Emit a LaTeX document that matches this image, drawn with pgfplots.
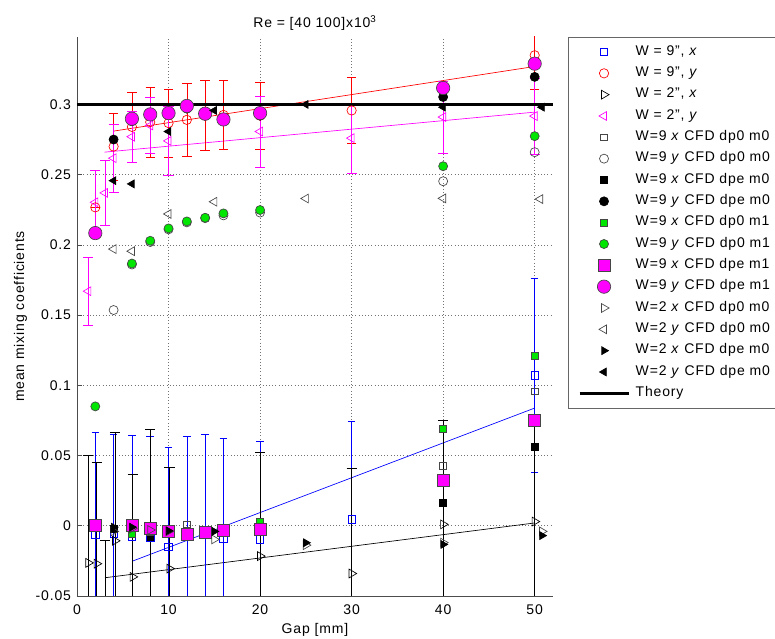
\documentclass[border=0pt]{standalone}
\usepackage{fontspec}
\setmainfont{Liberation Sans}[LetterSpace=6]
\usepackage{pgfplots}
\pgfplotsset{compat=1.18}

\definecolor{mgreen}{RGB}{0,230,0}
\definecolor{mag}{RGB}{255,0,255}
\definecolor{edgegray}{RGB}{70,70,70}

\pgfplotsset{
  expt/.style={only marks, line width=0.5pt,
    error bars/y dir=both, error bars/y explicit},
  cfd/.style={only marks, line width=0.5pt},
  fit/.style={no marks, line width=0.5pt, forget plot},
  theoryleg/.style={legend image code/.code={
    \draw[##1, line width=1.8pt] (0pt,0pt) -- (36.75pt,0pt);}},
}

\begin{document}
\begin{tikzpicture}
\begin{axis}[
  scale only axis, width=357pt, height=419.25pt,
  font=\fontsize{10.5}{12.5}\selectfont,
  xmin=0, xmax=52, ymin=-0.05, ymax=0.348,
  xtick={0,10,20,30,40,50},
  ytick={-0.05,0,0.05,0.1,0.15,0.2,0.25,0.3},
  axis x line*=bottom, axis y line*=left,
  axis line style={-, black!70, line width=0.5pt},
  tick align=inside, major tick length=4pt,
  tick style={black!70, line width=0.5pt},
  grid=major, grid style={dotted, black!55, line width=0.5pt},
  /pgf/number format/assume math mode=true,
  yticklabel style={xshift=-1pt, /pgf/number format/.cd, fixed, precision=2, assume math mode=true},
  xticklabel style={yshift=-3.25pt},
  xlabel={Gap [mm]},
  xlabel style={at={(axis description cs:0.5,-0.0608)}, anchor=center},
  ylabel={mean mixing coefficients},
  ylabel style={at={(axis description cs:-0.1187,0.5)}, anchor=center},
  title={Re = [40 100]x10\textsuperscript{3}},
  title style={at={(axis description cs:0.5,1)}, anchor=base, yshift=1pt},
  legend style={at={(axis description cs:1,1)}, anchor=north west, xshift=11.25pt,
    draw=black!60, line width=0.5pt, fill=white, inner xsep=7.5pt, inner ysep=6pt,
    row sep=6pt, column sep=4.5pt,
    nodes={inner sep=0pt, text height=7.5pt, text depth=2.5pt},
    font=\fontsize{10.5}{12.5}\selectfont},
  legend cell align=left,
  legend image code/.code={
    \path[draw=none, fill=none] (0pt,-2pt) (36.75pt,2pt);
    \draw[#1] plot coordinates {(18.375pt,0pt)};},
]
\coordinate (O) at (rel axis cs:0,0);

% fitted lines
\addplot[fit, blue] coordinates {(6.05,-0.0252) (50,0.0838)};
\addplot[fit, red] coordinates {(4,0.281) (50,0.327)};
\addplot[fit, mag] coordinates {(3,0.266) (50,0.2945)};
\addplot[fit, black] coordinates {(3.06,-0.037) (50,0.002)};

% W = 9", x
\addplot[expt, blue, mark=square, mark size=2.8pt,
  error bars/error bar style={blue, line width=0.5pt}]
  table[x=x, y=y, y error=e] {
x y e
2 -0.0066 0.073
4 -0.0055 0.071
6 -0.0078 0.072
8 -0.0083 0.072
10 -0.015 0.071
12 -0.006 0.070
14 -0.005 0.070
16 -0.009 0.071
20 -0.0095 0.070
30 0.0046 0.070
50 0.107 0.069
};
\addlegendentry{W = 9", \textit{x}}

% W = 9", y
\addplot[expt, red, mark=o, mark size=3.5pt,
  error bars/error bar style={red, line width=0.5pt}]
  table[x=x, y=y, y error=e] {
x y e
2 0.2267 0
4 0.270 0.024
6 0.284 0.025
8 0.2874 0.025
10 0.2867 0.024
12 0.289 0.026
14 0.292 0.025
16 0.2925 0.0245
20 0.292 0.024
30 0.2957 0.0233
40 0.313 0
50 0.335 0.0245
};
\addlegendentry{W = 9", \textit{y}}

% W = 2", x
\addplot[expt, black, mark=triangle, mark size=3.8pt, mark options={rotate=-90},
  error bars/error bar style={black, line width=0.5pt}]
  table[x=x, y=y, y error=e] {
x y e
1.24 -0.0264 0.0764
2.15 -0.027 0.072
3.06 -0.086 0.076
4.15 -0.0107 0.077
6.08 -0.0364 0.073
8 -0.003 0.072
10.1 -0.0305 0.0725
20 -0.0216 0.0736
30 -0.034 0.075
40 0.001 0.074
50 0.003 0.075
};
\addlegendentry{W = 2", \textit{x}}

% W = 2", y
\addplot[expt, mag, mark=triangle, mark size=3.8pt, mark options={rotate=90},
  error bars/error bar style={mag, line width=0.5pt}]
  table[x=x, y=y, y error=e] {
x y e
1.24 0.167 0.024
2 0.2303 0.023
3.06 0.237 0.023
4 0.2617 0.024
6 0.277 0.018
8 0.285 0.02
10 0.274 0.0245
20 0.2807 0.0254
30 0.276 0.025
40 0.291 0.0257
50 0.2917 0.027
};
\addlegendentry{W = 2", \textit{y}}

% CFD
\addplot[cfd, edgegray, mark=square, mark size=2.6pt] coordinates {
(2,0.0) (4,-0.002) (6,-0.003) (8,-0.004) (10,-0.004) (12,0.001) (14,-0.003)
(16,-0.003) (20,-0.002) (40,0.043) (50,0.0957)};
\addlegendentry{W=9 \textit{x} CFD dp0 m0}

\addplot[cfd, edgegray, mark=o, mark size=3.4pt] coordinates {
(4,0.1536) (6,0.186) (8,0.202) (10,0.211) (12,0.216) (14,0.219) (16,0.221)
(20,0.223) (40,0.2453) (50,0.266)};
\addlegendentry{W=9 \textit{y} CFD dp0 m0}

\addplot[cfd, black, mark=square*, mark size=2.5pt] coordinates {
(4,-0.002) (6,-0.003) (8,-0.008) (10,-0.006) (12,-0.005) (14,-0.005) (16,-0.004)
(20,-0.003) (40,0.0164) (50,0.0564)};
\addlegendentry{W=9 \textit{x} CFD dpe m0}

\addplot[cfd, black, mark=*, mark size=3.4pt] coordinates {
(4,0.275) (6,0.288) (8,0.292) (10,0.293) (12,0.297) (14,0.292) (16,0.288)
(20,0.292) (40,0.3053) (50,0.3196)};
\addlegendentry{W=9 \textit{y} CFD dpe m0}

\addplot[cfd, mark=square*, mark size=2.6pt, mark options={draw=edgegray, fill=mgreen}] coordinates {
(6,-0.006) (8,-0.004) (10,-0.004) (12,-0.005) (14,-0.004) (16,-0.003)
(20,0.003) (40,0.0688) (50,0.1207)};
\addlegendentry{W=9 \textit{x} CFD dp0 m1}

\addplot[cfd, mark=*, mark size=3.4pt, mark options={draw=edgegray, fill=mgreen}] coordinates {
(2,0.085) (6,0.1867) (8,0.2029) (10,0.2117) (12,0.2167) (14,0.2193) (16,0.2224)
(20,0.2248) (40,0.256) (50,0.2774)};
\addlegendentry{W=9 \textit{y} CFD dp0 m1}

\addplot[cfd, mark=square*, mark size=4.5pt, mark options={draw=edgegray, fill=mag}] coordinates {
(2,0.0005) (6,0.0005) (8,-0.0019) (10,-0.0043) (12,-0.006) (14,-0.005) (16,-0.0036)
(20,-0.0026) (40,0.0322) (50,0.0748)};
\addlegendentry{W=9 \textit{x} CFD dpe m1}

\addplot[cfd, mark=*, mark size=5pt, mark options={draw=edgegray, fill=mag}] coordinates {
(2,0.2084) (6,0.2898) (8,0.2929) (10,0.2938) (12,0.2989) (14,0.2934) (16,0.2893)
(20,0.2938) (40,0.3117) (50,0.329)};
\addlegendentry{W=9 \textit{y} CFD dpe m1}

\addplot[cfd, edgegray, mark=triangle, mark size=3.8pt, mark options={rotate=-90}] coordinates {
(4,-0.004) (6,-0.002) (8,-0.003) (10,-0.004) (15,-0.0097) (25,-0.0138) (40,-0.012) (50.8,-0.004)};
\addlegendentry{W=2 \textit{x} CFD dp0 m0}

\addplot[cfd, edgegray, mark=triangle, mark size=3.8pt, mark options={rotate=90}] coordinates {
(4,0.197) (6,0.1955) (10,0.222) (15,0.2307) (25,0.233) (40,0.2331) (50.6,0.2326)};
\addlegendentry{W=2 \textit{y} CFD dp0 m0}

\addplot[cfd, black, mark=triangle*, mark size=3.4pt, mark options={rotate=-90}] coordinates {
(4,-0.001) (6,-0.001) (10,-0.0036) (15,-0.004) (25,-0.0121) (40,-0.0133) (50.8,-0.007)};
\addlegendentry{W=2 \textit{x} CFD dpe m0}

\addplot[cfd, black, mark=triangle*, mark size=3.4pt, mark options={rotate=90}] coordinates {
(4,0.2457) (6,0.2434) (10,0.2807) (15,0.2957) (25,0.300) (40,0.298) (50.8,0.298)};
\addlegendentry{W=2 \textit{y} CFD dpe m0}

% theory
\addplot[theoryleg, black, no marks, line width=2.25pt] coordinates {(0,0.3) (52,0.3)};
\addlegendentry{\makebox[110pt][l]{Theory}}
\end{axis}
\pgfresetboundingbox
\path[use as bounding box] ([xshift=-57.75pt,yshift=-32.25pt]O) rectangle ++(581.25pt,479.25pt);
\end{tikzpicture}
\end{document}
